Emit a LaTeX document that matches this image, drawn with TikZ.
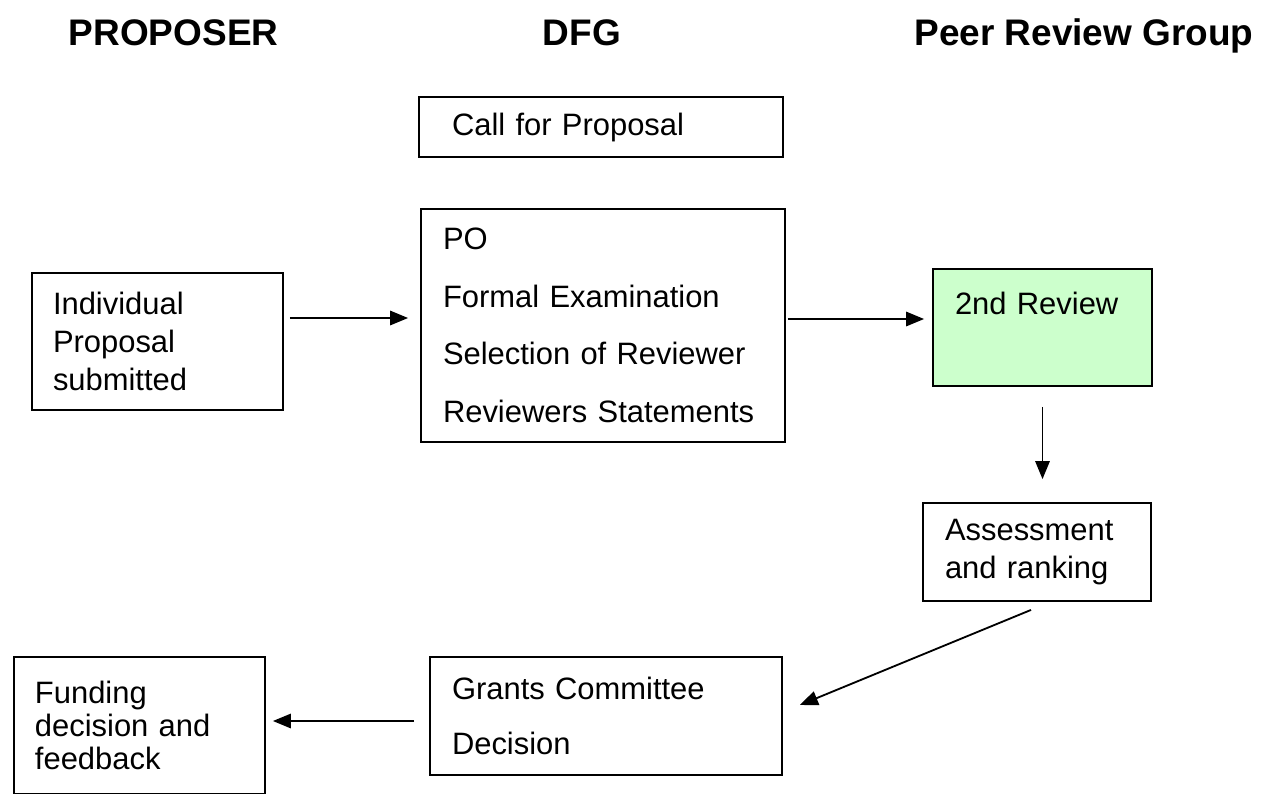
\documentclass[tikz,border=0pt]{standalone}
\usepackage{fontspec}
\setmainfont{Liberation Sans}
\usepackage{tikz}
\usetikzlibrary{arrows.meta}
\definecolor{reviewgreen}{HTML}{CCFFCC}

\begin{document}
\begin{tikzpicture}[
  header/.style={anchor=base, font=\fontsize{26.3}{30}\bfseries\selectfont},
  stepbox/.style={draw, line width=1.3pt, align=left, inner ysep=0pt, font=\fontsize{22}{27}\selectfont},
  flow/.style={-{Triangle[length=0.45cm, width=0.36cm]}, line width=1.3pt}
]

% Fix the page size
\useasboundingbox (0,0) rectangle (31.7,-19.825);

% Column headers
\node[header] (proposer) at (4.34,-1.125) {PROPOSER};
\node[header] (dfghead) at (14.55,-1.125) {DFG};
\node[header] (peerhead) at (27.1,-1.125) {Peer Review Group};

% DFG column
\node[stepbox, minimum height=1.5cm, inner xsep=0.825cm, text width=7.45cm] (call) at (15.025,-3.175) {Call for Proposal};
\node[stepbox, minimum height=5.825cm, inner xsep=0.55cm, text width=8cm] (dfg) at (15.075,-8.1375) {PO\\[14pt] Formal Examination\\[14pt] Selection of Reviewer\\[14pt] Reviewers Statements};
\node[stepbox, minimum height=2.95cm, inner xsep=0.55cm, text width=7.7cm] (grants) at (15.15,-17.9) {Grants Committee\\[12pt] Decision};

% Proposer column
\node[stepbox, minimum height=3.425cm, inner xsep=0.525cm, text width=5.225cm] (indiv) at (3.9375,-8.5375) {Individual\\ Proposal\\ submitted};
\node[stepbox, minimum height=3.425cm, inner xsep=0.525cm, text width=5.225cm] (funding) at (3.4875,-18.1375) {Funding\\[-3.5pt] decision and\\[-3.5pt] feedback};

% Peer review column
\node[stepbox, fill=reviewgreen, anchor=north, inner xsep=0.55cm, text width=4.375cm, text height=1.15cm, text depth=1.775cm] (review2) at (26.0625,-6.7) {2nd Review};
\node[stepbox, minimum height=2.45cm, inner xsep=0.55cm, text width=4.6cm] (assess) at (25.925,-13.8) {Assessment\\ and ranking};

% Draw the arrows
\draw[flow, shorten <=0.15cm, shorten >=0.3cm] (indiv.east |- 0,-7.95) -- (dfg.west |- 0,-7.95);
\draw[flow, shorten <=0.05cm, shorten >=0.2cm] (dfg.east |- 0,-7.975) -- (review2.west |- 0,-7.975);
\draw[flow, shorten <=0.5cm, shorten >=0.575cm] (review2.south) -- (review2.south |- assess.north);
\draw[flow] ([shift={(-0.15,-0.2)}]assess.south) -- ([shift={(0.425,0.275)}]grants.east);
\draw[flow, shorten <=0.375cm, shorten >=0.175cm] (grants.west |- 0,-18.025) -- (funding.east |- 0,-18.025);

\end{tikzpicture}
\end{document}
